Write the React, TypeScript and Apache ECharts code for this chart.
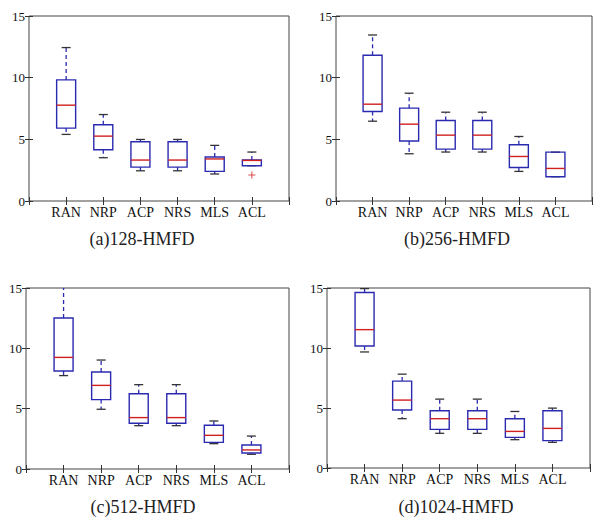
import React, { useEffect, useRef } from 'react';
import * as echarts from 'echarts';

const categories = ['RAN', 'NRP', 'ACP', 'NRS', 'MLS', 'ACL'];

// [min, Q1, median, Q3, max] per category
const panelA = [
  [5.40, 5.91, 7.77, 9.82, 12.44],
  [3.51, 4.15, 5.26, 6.18, 7.01],
  [2.45, 2.75, 3.32, 4.80, 4.99],
  [2.45, 2.75, 3.32, 4.80, 4.99],
  [2.19, 2.40, 3.41, 3.57, 4.51],
  [2.86, 2.86, 3.29, 3.32, 3.97],
];
const panelB = [
  [6.47, 7.26, 7.85, 11.82, 13.46],
  [3.83, 4.86, 6.23, 7.53, 8.74],
  [3.97, 4.21, 5.34, 6.53, 7.20],
  [3.97, 4.21, 5.34, 6.53, 7.20],
  [2.40, 2.72, 3.61, 4.56, 5.23],
  [1.97, 1.97, 2.64, 3.96, 3.96],
];
const panelC = [
  [7.74, 8.12, 9.25, 12.51, 16.0],
  [4.95, 5.75, 6.93, 8.04, 9.03],
  [3.59, 3.79, 4.26, 6.24, 6.99],
  [3.59, 3.79, 4.26, 6.24, 6.99],
  [2.10, 2.21, 2.79, 3.62, 3.98],
  [1.22, 1.33, 1.58, 1.99, 2.73],
];
const panelD = [
  [9.67, 10.17, 11.53, 14.63, 14.95],
  [4.11, 4.83, 5.66, 7.24, 7.82],
  [2.89, 3.22, 4.11, 4.77, 5.74],
  [2.89, 3.22, 4.11, 4.77, 5.74],
  [2.36, 2.55, 3.05, 4.11, 4.71],
  [2.14, 2.28, 3.30, 4.77, 4.99],
];
// outliers: [categoryIndex (1-based), value]
const outliersA = [[6, 2.11]];

const captions = ['(a)128-HMFD', '(b)256-HMFD', '(c)512-HMFD', '(d)1024-HMFD'];
const yMin = 0;
const yMax = 15;
const yInterval = 5;

const panels = [panelA, panelB, panelC, panelD];

export default function App() {
  const ref = useRef<HTMLDivElement>(null);
  useEffect(() => {
    const chart = echarts.init(ref.current!, null, { renderer: 'svg' });
    const font = "'Liberation Serif', 'DejaVu Serif', serif";
    const grids = [
      { left: 29, top: 16, width: 260, height: 185 },
      { left: 336, top: 16, width: 258, height: 185 },
      { left: 26, top: 288, width: 263, height: 181 },
      { left: 327, top: 288, width: 263, height: 180 },
    ];
    const blue = '#2a2ab0';
    const red = '#d02020';
    const capColor = '#333';
    const tick = { show: true, inside: true, length: 4, lineStyle: { color: '#333', width: 1 } };
    const xAxes: any[] = [];
    const yAxes: any[] = [];
    grids.forEach((_, i) => {
      xAxes.push({
        type: 'value', gridIndex: i, min: 0, max: 7, interval: 1, position: 'bottom',
        axisLine: { show: false }, axisTick: tick, splitLine: { show: false },
        axisLabel: {
          margin: 4, fontFamily: font, fontSize: 14, color: '#111',
          formatter: (v: number) => (v >= 1 && v <= categories.length ? categories[v - 1] : ''),
        },
      });
      xAxes.push({
        type: 'value', gridIndex: i, min: 0, max: 7, interval: 1, position: 'top',
        axisLine: { show: false }, axisTick: tick, splitLine: { show: false }, axisLabel: { show: false },
      });
      yAxes.push({
        type: 'value', gridIndex: i, min: yMin, max: yMax, interval: yInterval, position: 'left',
        axisLine: { show: false }, axisTick: tick, splitLine: { show: false },
        axisLabel: { margin: 4, fontFamily: font, fontSize: 13, color: '#111' },
      });
      yAxes.push({
        type: 'value', gridIndex: i, min: yMin, max: yMax, interval: yInterval, position: 'right',
        axisLine: { show: false }, axisTick: tick, splitLine: { show: false }, axisLabel: { show: false },
      });
    });

    const renderItem = (params: any, api: any) => {
      const x = api.value(0);
      const mn = api.coord([x, api.value(1)]);
      const q1 = api.coord([x, api.value(2)]);
      const md = api.coord([x, api.value(3)]);
      const q3 = api.coord([x, api.value(4)]);
      const mx = api.coord([x, api.value(5)]);
      const cx = mn[0];
      const hw = 9.5;
      const cw = 4.5;
      const dash = { stroke: blue, lineWidth: 1.3, lineDash: [4, 3] };
      return {
        type: 'group',
        children: [
          { type: 'line', shape: { x1: cx, y1: q3[1], x2: cx, y2: mx[1] }, style: dash },
          { type: 'line', shape: { x1: cx, y1: q1[1], x2: cx, y2: mn[1] }, style: dash },
          { type: 'line', shape: { x1: cx - cw, y1: mx[1], x2: cx + cw, y2: mx[1] }, style: { stroke: capColor, lineWidth: 1.3 } },
          { type: 'line', shape: { x1: cx - cw, y1: mn[1], x2: cx + cw, y2: mn[1] }, style: { stroke: capColor, lineWidth: 1.3 } },
          { type: 'rect', shape: { x: cx - hw, y: q3[1], width: hw * 2, height: q1[1] - q3[1] }, style: { fill: 'none', stroke: blue, lineWidth: 1.4 } },
          { type: 'line', shape: { x1: cx - hw, y1: md[1], x2: cx + hw, y2: md[1] }, style: { stroke: red, lineWidth: 1.4 } },
        ],
      };
    };

    const series: any[] = panels.map((p, i) => ({
      type: 'custom',
      xAxisIndex: i * 2,
      yAxisIndex: i * 2,
      clip: true,
      renderItem,
      data: p.map((v, k) => [k + 1, ...v]),
    }));
    series.push({
      type: 'scatter',
      xAxisIndex: 0,
      yAxisIndex: 0,
      symbol: 'path://M3.4,0H4.6V8H3.4ZM0,3.4H8V4.6H0Z',
      symbolSize: 7,
      itemStyle: { color: red },
      data: outliersA,
    });

    const capPos = [
      [142, 239],
      [457, 239],
      [143, 507],
      [456, 507],
    ];

    chart.setOption({
      animation: false,
      backgroundColor: '#fff',
      grid: grids.map((g) => ({ ...g, show: true, borderColor: '#444', borderWidth: 1, containLabel: false })),
      xAxis: xAxes,
      yAxis: yAxes,
      series,
      graphic: captions.map((c, i) => ({
        type: 'text',
        x: capPos[i][0],
        y: capPos[i][1],
        style: { text: c, fontFamily: font, fontSize: 18, fill: '#222', textAlign: 'center', textVerticalAlign: 'middle' },
      })),
    });
    return () => chart.dispose();
  }, []);
  return <div ref={ref} style={{ position: 'absolute', left: 0, top: 0, width: 595, height: 524 }} />;
}
